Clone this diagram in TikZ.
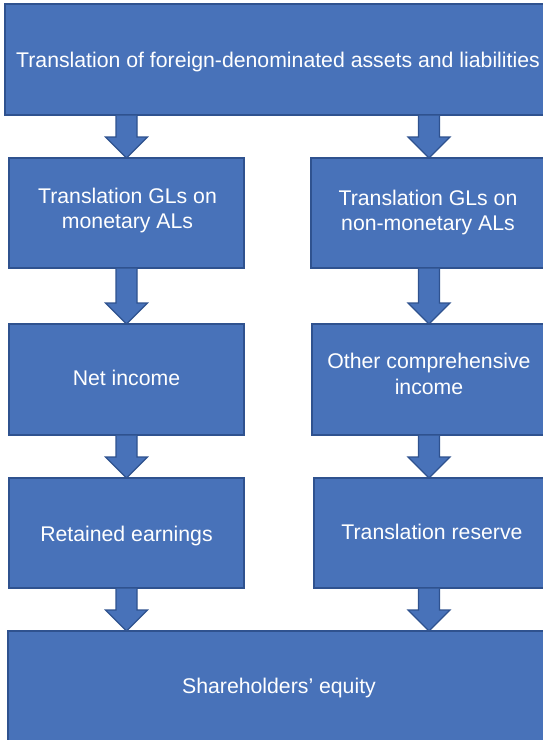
\documentclass[tikz,border=0pt]{standalone}
\usepackage{fontspec}
\setmainfont{Liberation Sans}
\usetikzlibrary{calc}
\definecolor{boxfill}{RGB}{72,114,185}
\definecolor{boxline}{RGB}{47,82,143}
\tikzset{
  box/.style={draw=boxline, fill=boxfill, line width=1.2pt, inner sep=0pt, outer sep=0pt},
  lbl/.style={text=white, font=\fontsize{21.25}{25.5}\selectfont, anchor=base, inner sep=0pt},
  arrowsty/.style={draw=boxline, fill=boxfill, line width=1.2pt, line join=miter}
}
% #1 = x position (px), #2 = source node, #3 = target node
\newcommand\blockarrow[3]{%
  \filldraw[arrowsty] let \p1=(#2.south), \p2=(#3.north) in
    (#1pt-10.5pt,\y1-0.6pt) -- (#1pt-10.5pt,\y2+21pt) -- (#1pt-21pt,\y2+21pt)
    -- (#1pt,\y2) -- (#1pt+21pt,\y2+21pt) -- (#1pt+10.5pt,\y2+21pt)
    -- (#1pt+10.5pt,\y1-0.6pt);
}
\begin{document}
\begin{tikzpicture}[x=1pt,y=-1pt]
  \useasboundingbox (0,0) rectangle (543,740);
  \clip (0,0) rectangle (543,740);
  \fill[white] (0,0) rectangle (543,740);

  % boxes
  \node[box, minimum width=546pt, minimum height=111pt] (top) at (278,59.5) {};
  \node[box, minimum width=235pt, minimum height=110pt] (gl1) at (126.5,213) {};
  \node[box, minimum width=239pt, minimum height=110pt] (gl2) at (430.5,213) {};
  \node[box, minimum width=235pt, minimum height=111pt] (ni) at (126.5,379.5) {};
  \node[box, minimum width=238pt, minimum height=111pt] (oci) at (431,379.5) {};
  \node[box, minimum width=235pt, minimum height=110pt] (re) at (126.5,533) {};
  \node[box, minimum width=236pt, minimum height=110pt] (tr) at (432,533) {};
  \node[box, minimum width=542pt, minimum height=114pt] (se) at (279,688) {};

  % texts
  \node[lbl] (ttop) at (278,67) {Translation of foreign-denominated assets and liabilities};
  \node[lbl] (tgl1a) at (127.5,203) {Translation GLs on};
  \node[lbl] (tgl1b) at (127.5,228) {monetary ALs};
  \node[lbl] (tgl2a) at (428,205) {Translation GLs on};
  \node[lbl] (tgl2b) at (428,230.5) {non-monetary ALs};
  \node[lbl] (tni) at (126.5,385) {Net income};
  \node[lbl] (toci1) at (429,368) {Other comprehensive};
  \node[lbl] (toci2) at (429,394) {income};
  \node[lbl] (tre) at (126.5,541) {Retained earnings};
  \node[lbl] (ttr) at (432,539) {Translation reserve};
  \node[lbl] (tse) at (279,693) {Shareholders’ equity};

  % block arrows
  \blockarrow{126.5}{top}{gl1}
  \blockarrow{429}{top}{gl2}
  \blockarrow{126.5}{gl1}{ni}
  \blockarrow{429}{gl2}{oci}
  \blockarrow{126.5}{ni}{re}
  \blockarrow{429}{oci}{tr}
  \blockarrow{126.5}{re}{se}
  \blockarrow{429}{tr}{se}
\end{tikzpicture}
\end{document}
